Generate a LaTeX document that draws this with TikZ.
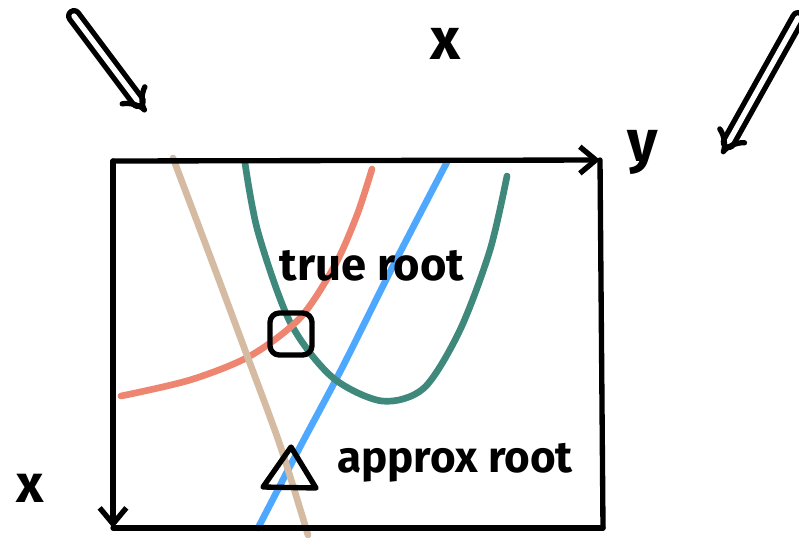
\documentclass[tikz,border=0pt]{standalone}
\usepackage{fontspec}
\setmainfont{Fira Sans}
\usetikzlibrary{arrows.meta}
\definecolor{inkc}{HTML}{000000}
\definecolor{tanc}{HTML}{D4BBA2}
\definecolor{salmonc}{HTML}{EE8571}
\definecolor{tealc}{HTML}{3F887C}
\definecolor{bluec}{HTML}{4FA8FF}
\begin{document}
\begin{tikzpicture}[x=0.75pt,y=-0.75pt,
  ink/.style={draw=inkc,line width=4pt,line cap=round,line join=round},
  curve/.style={line width=5pt,line cap=round},
  axisarrow/.style={ink,-{Straight Barb[length=12pt,width=20pt,line width=4pt]}},
  dblarrow/.style={draw=inkc,line width=4pt,double=white,double distance=4pt,line cap=round,-{Implies[length=20pt,width=34pt]}},
  lbl/.style={font=\fontsize{34}{36}\selectfont\bfseries,text=inkc,inner sep=0pt}]
\useasboundingbox (0,0) rectangle (799,537);
% corners of the frame
\coordinate (tl) at (113,161);
\coordinate (tr) at (600,160);
\coordinate (br) at (603,528);
\coordinate (bl) at (113,528);
% coloured curves
\draw[curve,draw=bluec] plot[smooth] coordinates {(447,162) (392,268) (342,368) (300,447) (258,528)};
\draw[curve,draw=tealc] plot[smooth] coordinates {(245,163) (258,232) (290,322) (332,377) (382,401) (424,388) (460,330) (490,250) (507,176)};
\draw[curve,draw=salmonc] plot[smooth] coordinates {(121,396) (190,380) (250,356) (300,318) (335,265) (357,215) (372,169)};
\draw[curve,draw=tanc] plot[smooth] coordinates {(173,158) (210,256) (245,350) (280,445) (308,535)};
% frame / axes
\draw[axisarrow] (tl) -- (tr);
\draw[axisarrow] (tl) -- (bl);
\draw[ink] (tr) -- (br);
\draw[ink] (bl) -- (br);
% markers
\draw[ink,rounded corners=7pt] (270,313) rectangle (312,355);
\draw[ink] (291,447) -- (316,488) -- (263,487) -- cycle;
% labels
\node[lbl,font=\fontsize{44}{46}\selectfont\bfseries] (xtop) at (446,44) {x};
\node[lbl,font=\fontsize{44}{46}\selectfont\bfseries] (ylab) at (643,152) {y};
\node[lbl,font=\fontsize{40}{42}\selectfont\bfseries] (xleft) at (30,488) {x};
\node[lbl] (trueroot) at (372,266) {true root};
\node[lbl,font=\fontsize{33}{35}\selectfont\bfseries] (approx) at (455,463) {approx root};
% double arrows
\coordinate (a1s) at (74,16);
\coordinate (a1e) at (146,112);
\coordinate (a2s) at (798,18);
\coordinate (a2e) at (722,154);
\draw[dblarrow] (a1s) -- (a1e);
\draw[dblarrow] (a2s) -- (a2e);
\end{tikzpicture}
\end{document}
